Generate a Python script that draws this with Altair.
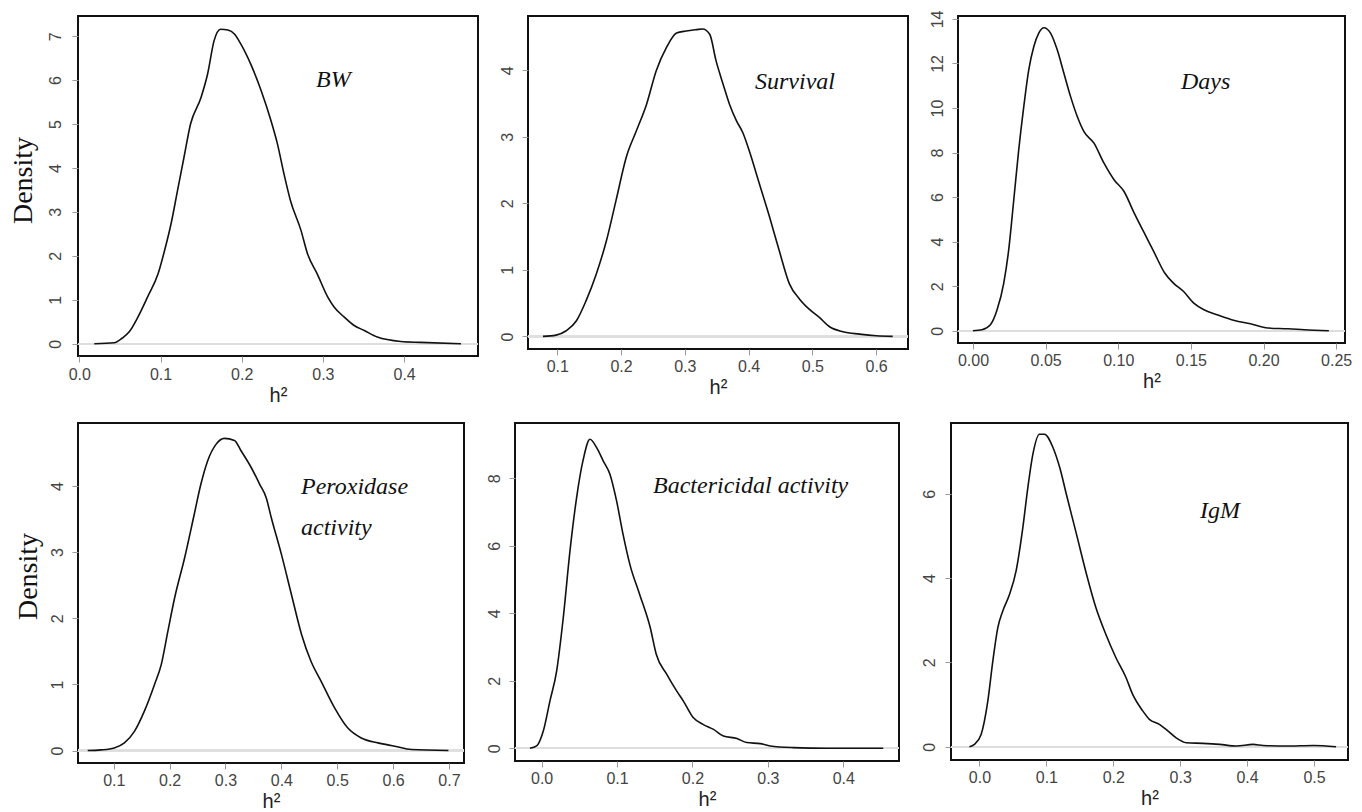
import altair as alt
import pandas as pd

# ---- data (posterior densities of heritability) ----
TRAITS = ["BW", "Survival", "Days", "Peroxidase\nactivity", "Bactericidal activity", "IgM"]

BW_X = [0.0185, 0.043, 0.053, 0.0615, 0.072, 0.084, 0.097, 0.105, 0.113, 0.121, 0.129, 0.137,
        0.150, 0.158, 0.166, 0.174, 0.183, 0.191, 0.199, 0.211, 0.224, 0.236, 0.244, 0.252,
        0.260, 0.273, 0.281, 0.293, 0.306, 0.314, 0.326, 0.338, 0.351, 0.367, 0.396, 0.420, 0.470]
BW_Y = [0.0, 0.02, 0.13, 0.27, 0.6, 1.06, 1.59, 2.12, 2.73, 3.49, 4.25, 5.0,
        5.61, 6.14, 6.90, 7.16, 7.14, 7.05, 6.82, 6.37, 5.76, 5.08, 4.55, 3.87,
        3.26, 2.58, 2.05, 1.59, 1.06, 0.83, 0.61, 0.42, 0.30, 0.15, 0.05, 0.03, 0.0]

SURV_X = [0.0775, 0.098, 0.114, 0.130, 0.145, 0.161, 0.177, 0.192, 0.208, 0.224, 0.240, 0.255,
          0.271, 0.287, 0.302, 0.318, 0.328, 0.339, 0.349, 0.360, 0.370, 0.381, 0.391, 0.401,
          0.417, 0.433, 0.448, 0.464, 0.480, 0.495, 0.511, 0.527, 0.548, 0.574, 0.600, 0.626]
SURV_Y = [0.0, 0.02, 0.085, 0.235, 0.535, 0.936, 1.437, 2.04, 2.69, 3.09, 3.49, 3.99,
          4.34, 4.56, 4.59, 4.61, 4.62, 4.54, 4.14, 3.79, 3.49, 3.24, 3.06, 2.79,
          2.29, 1.79, 1.29, 0.79, 0.56, 0.41, 0.285, 0.145, 0.07, 0.035, 0.01, 0.0]

DAYS_X = [0.0, 0.0062, 0.012, 0.0166, 0.0212, 0.0246, 0.0281, 0.0315, 0.035, 0.0384, 0.0419,
          0.0453, 0.0488, 0.0534, 0.058, 0.0626, 0.0672, 0.0718, 0.0764, 0.0833, 0.0902, 0.0971,
          0.104, 0.111, 0.118, 0.125, 0.132, 0.138, 0.145, 0.152, 0.159, 0.168, 0.180, 0.191,
          0.203, 0.217, 0.228, 0.245]
DAYS_Y = [0.0, 0.045, 0.27, 0.94, 2.14, 3.63, 5.88, 8.12, 10.07, 11.71, 12.76,
          13.36, 13.6, 13.36, 12.61, 11.56, 10.51, 9.62, 8.94, 8.42, 7.52, 6.78,
          6.25, 5.28, 4.38, 3.48, 2.59, 2.14, 1.76, 1.24, 0.94, 0.72, 0.46, 0.31,
          0.12, 0.09, 0.045, 0.0]

PEROX_X = [0.0534, 0.077, 0.101, 0.119, 0.137, 0.155, 0.173, 0.185, 0.197, 0.209, 0.227, 0.244,
           0.256, 0.268, 0.283, 0.298, 0.316, 0.328, 0.346, 0.361, 0.373, 0.382, 0.400, 0.418,
           0.436, 0.453, 0.471, 0.495, 0.519, 0.543, 0.573, 0.603, 0.633, 0.699]
PEROX_Y = [0.0, 0.01, 0.04, 0.116, 0.29, 0.60, 1.0, 1.30, 1.81, 2.31, 2.92, 3.57,
           4.03, 4.38, 4.63, 4.72, 4.69, 4.53, 4.28, 4.03, 3.82, 3.52, 2.97, 2.36,
           1.76, 1.35, 1.05, 0.65, 0.34, 0.19, 0.116, 0.066, 0.015, 0.0]

BACT_X = [-0.0155, -0.0066, 0.0022, 0.011, 0.0199, 0.0287, 0.0376, 0.0464, 0.0552, 0.0641,
          0.073, 0.0818, 0.0906, 0.0994, 0.108, 0.117, 0.130, 0.144, 0.152, 0.166, 0.179,
          0.188, 0.201, 0.214, 0.228, 0.241, 0.259, 0.272, 0.290, 0.303, 0.334, 0.378, 0.453]
BACT_Y = [0.0, 0.07, 0.51, 1.40, 2.29, 3.87, 5.85, 7.43, 8.56, 9.16,
          8.91, 8.51, 8.12, 7.33, 6.34, 5.45, 4.56, 3.58, 2.79, 2.19, 1.70,
          1.40, 0.91, 0.71, 0.56, 0.365, 0.29, 0.17, 0.14, 0.07, 0.02, 0.0, 0.0]

IGM_X = [-0.015, -0.0075, 0.0025, 0.0125, 0.020, 0.0274, 0.0349, 0.0449, 0.0548, 0.0648, 0.0723,
         0.0798, 0.0897, 0.0972, 0.110, 0.120, 0.130, 0.145, 0.160, 0.174, 0.189, 0.204, 0.219,
         0.229, 0.244, 0.254, 0.269, 0.279, 0.294, 0.309, 0.334, 0.359, 0.384, 0.409, 0.424,
         0.459, 0.499, 0.533]
IGM_Y = [0.0, 0.055, 0.29, 1.08, 2.03, 2.82, 3.22, 3.61, 4.17, 5.19, 6.14,
         6.93, 7.41, 7.41, 7.09, 6.62, 5.98, 5.04, 4.09, 3.30, 2.66, 2.11, 1.64,
         1.24, 0.85, 0.65, 0.53, 0.41, 0.21, 0.095, 0.08, 0.055, 0.016, 0.055, 0.03,
         0.016, 0.03, 0.0]

X_TICKS = [
    [0.0, 0.1, 0.2, 0.3, 0.4],
    [0.1, 0.2, 0.3, 0.4, 0.5, 0.6],
    [0.0, 0.05, 0.10, 0.15, 0.20, 0.25],
    [0.1, 0.2, 0.3, 0.4, 0.5, 0.6, 0.7],
    [0.0, 0.1, 0.2, 0.3, 0.4],
    [0.0, 0.1, 0.2, 0.3, 0.4, 0.5],
]
Y_TICKS = [
    [0, 1, 2, 3, 4, 5, 6, 7],
    [0, 1, 2, 3, 4],
    [0, 2, 4, 6, 8, 10, 12, 14],
    [0, 1, 2, 3, 4],
    [0, 2, 4, 6, 8],
    [0, 2, 4, 6],
]
X_FORMATS = [".1f", ".1f", ".2f", ".1f", ".1f", ".1f"]
X_DOMAINS = [[-0.0016, 0.491], [0.054, 0.650], [-0.0103, 0.2561],
             [0.036, 0.7269], [-0.0353, 0.4739], [-0.0425, 0.5508]]
Y_DOMAINS = [[-0.28, 7.46], [-0.189, 4.815], [-0.55, 14.13],
             [-0.188, 4.953], [-0.376, 9.64], [-0.315, 7.676]]

SERIES = [(BW_X, BW_Y), (SURV_X, SURV_Y), (DAYS_X, DAYS_Y),
          (PEROX_X, PEROX_Y), (BACT_X, BACT_Y), (IGM_X, IGM_Y)]

# ---- layout / style (pixels) ----
SIZES = [(400, 340), (380, 333), (387, 327), (386, 340), (384, 338), (397, 337)]
LABEL_POS = [(238, 71), (227, 73), (223, 73), (223, 71), (138, 70), (249, 95)]
YLAB_PAD = [8.6, 6.6, 6.5, 6.6, 6.6, 7.9]
XLAB_PAD = [4.5, 3, 3, 3, 3, 3]
DENSITY_TITLE = {0: (-55, 164), 3: (-50, 153)}


def panel(i):
    xs, ys = SERIES[i]
    w, h = SIZES[i]
    df = pd.DataFrame({"h2": xs, "density": ys})
    xscale = alt.Scale(domain=X_DOMAINS[i], nice=False, zero=False)
    yscale = alt.Scale(domain=Y_DOMAINS[i], nice=False, zero=False)
    xaxis = alt.Axis(values=X_TICKS[i], format=X_FORMATS[i], title="h²",
                     labelPadding=XLAB_PAD[i], titlePadding=3,
                     titleFont="Liberation Sans", titleFontSize=20,
                     titleFontWeight="normal", titleColor="#222")
    ykw = dict(values=Y_TICKS[i], format="d", labelAngle=270, labelAlign="center",
               labelBaseline="bottom", labelPadding=YLAB_PAD[i])
    if i in DENSITY_TITLE:
        tx, ty = DENSITY_TITLE[i]
        ykw.update(title="Density", titleX=tx, titleY=ty, titleAngle=270,
                   titleAlign="center", titleBaseline="middle",
                   titleFont="Liberation Serif", titleFontSize=28,
                   titleFontWeight="normal", titleColor="#111")
    else:
        ykw.update(title=None)
    yaxis = alt.Axis(**ykw)

    x = alt.X("h2:Q", scale=xscale, axis=xaxis)
    y = alt.Y("density:Q", scale=yscale, axis=yaxis)

    zero = alt.Chart(df).mark_rule(color="#dedede", strokeWidth=1.5).encode(
        y=alt.datum(0), x=alt.value(0), x2=alt.value(w))
    line = alt.Chart(df).mark_line(interpolate="monotone", color="#111",
                                   strokeWidth=1.6).encode(x=x, y=y, order="h2:Q")
    lx, ly = LABEL_POS[i]
    lab = alt.Chart(pd.DataFrame({"label": [TRAITS[i]]})).mark_text(
        font="Liberation Serif", fontStyle="italic", fontSize=24, color="#111",
        align="left", baseline="alphabetic", lineBreak="\n", lineHeight=41
    ).encode(x=alt.value(lx), y=alt.value(ly), text="label:N")
    return alt.layer(zero, line, lab).properties(width=w, height=h)


top = alt.hconcat(panel(0), panel(1), panel(2), spacing=18)
bottom = alt.hconcat(panel(3), panel(4), panel(5), spacing=19)
chart = alt.vconcat(top, bottom, spacing=15).properties(
    padding={"left": 0, "top": 0, "right": 0, "bottom": 0}
).configure(background="white").configure_view(
    stroke="#111", strokeWidth=2
).configure_axis(
    domain=False, grid=False, tickColor="#9a9a9a", tickSize=6, tickWidth=1,
    labelFont="Liberation Sans", labelFontSize=16, labelColor="#444"
)

chart.save("out.html", embed_options={"renderer": "svg", "actions": False})
